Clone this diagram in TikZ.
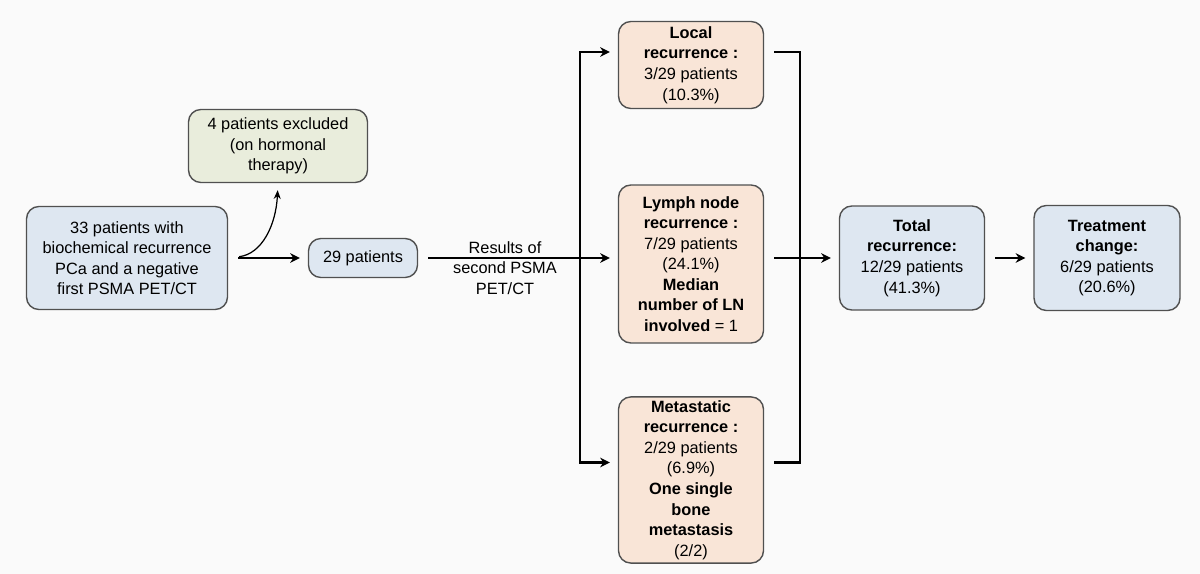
\documentclass[tikz,border=0pt]{standalone}
\usepackage{fontspec}
\setmainfont{Liberation Sans}
\usepackage{xcolor}
\usetikzlibrary{arrows.meta,positioning}
\definecolor{paleBlue}{RGB}{222,231,241}
\definecolor{palePeach}{RGB}{249,229,215}
\definecolor{paleSage}{RGB}{233,237,220}
\definecolor{edgeGrey}{RGB}{80,80,80}

\begin{document}
\begin{tikzpicture}[
  x=0.02cm, y=-0.02cm,
  every node/.style={font=\fontsize{9.3}{11.7}\selectfont},
  stage/.style={
    draw=edgeGrey,
    fill=#1,
    rounded corners=7pt,
    line width=0.8pt,
    inner sep=2pt,
    align=center
  },
  line/.style={line width=1.3pt, shorten <=0.2cm},
  flow/.style={line, -{Stealth[length=5.5pt,width=5.5pt]}, shorten >=0.16cm}
]
  \fill[white!98!black] (0,0) rectangle (1200,574);
  \useasboundingbox (0,0) rectangle (1200,574);

  \node[stage=paleBlue, minimum width=4.02cm, minimum height=2.06cm] (s) at (127,258)
    {33 patients with\\ biochemical recurrence\\ PCa and a negative\\ first PSMA PET/CT};
  \node[stage=paleSage, minimum width=3.58cm, minimum height=1.46cm] (x) at (278,146)
    {4 patients excluded\\ (on hormonal\\ therapy)};
  \node[stage=paleBlue, minimum width=2.18cm, minimum height=0.78cm] (p) at (363,258)
    {29 patients};
  \node[stage=palePeach, minimum width=2.9cm, minimum height=1.74cm] (l) at (691,65)
    {\textbf{Local}\\ \textbf{recurrence :}\\ 3/29 patients\\ (10.3\%)};
  \node[stage=palePeach, minimum width=2.9cm, minimum height=3.16cm] (n) at (691,264)
    {\textbf{Lymph node}\\ \textbf{recurrence :}\\ 7/29 patients\\ (24.1\%)\\
     \textbf{Median}\\ \textbf{number of LN}\\ \textbf{involved} = 1};
  \node[stage=palePeach, minimum width=2.9cm, minimum height=3.22cm] (m) at (691,480)
    {\textbf{Metastatic}\\ \textbf{recurrence :}\\ 2/29 patients\\ (6.9\%)\\
     \textbf{One single}\\ \textbf{bone}\\ \textbf{metastasis}\\ (2/2)};
  \node[stage=paleBlue, minimum width=2.9cm, minimum height=2.08cm] (t) at (912,258)
    {\textbf{Total}\\ \textbf{recurrence:}\\ 12/29 patients\\ (41.3\%)};
  \node[stage=paleBlue, minimum width=2.92cm, minimum height=2.1cm] (c) at (1107,258)
    {\textbf{Treatment}\\ \textbf{change:}\\ 6/29 patients\\ (20.6\%)};
  \node[align=center] (r) at (505,268) {Results of\\ second PSMA\\ PET/CT};

  \coordinate (busL) at (580,258);
  \coordinate (busR) at (800,258);

  % left part
  \draw[flow] (s.east) -- (p.west);
  \draw[line width=0.7pt, -{Stealth[length=5pt,width=4pt]}, shorten <=0.22cm, shorten >=0.14cm]
    (s.east) .. controls (262,254) and (276,225) .. (x.south);
  \draw[flow] (p.east) -- (n.west |- p.east);

  % branches
  \draw[flow, shorten <=0pt] (busL) |- ([yshift=0.26cm]l.west);
  \draw[flow, shorten <=0pt] (busL) |- ([yshift=0.35cm]m.west);
  \draw[line] ([yshift=0.26cm]l.east) -| (busR);
  \draw[line] ([yshift=0.35cm]m.east) -| (busR);
  \draw[flow] (n.east |- busR) -- (t.west);
  \draw[flow] (t.east) -- (c.west);
\end{tikzpicture}
\end{document}
